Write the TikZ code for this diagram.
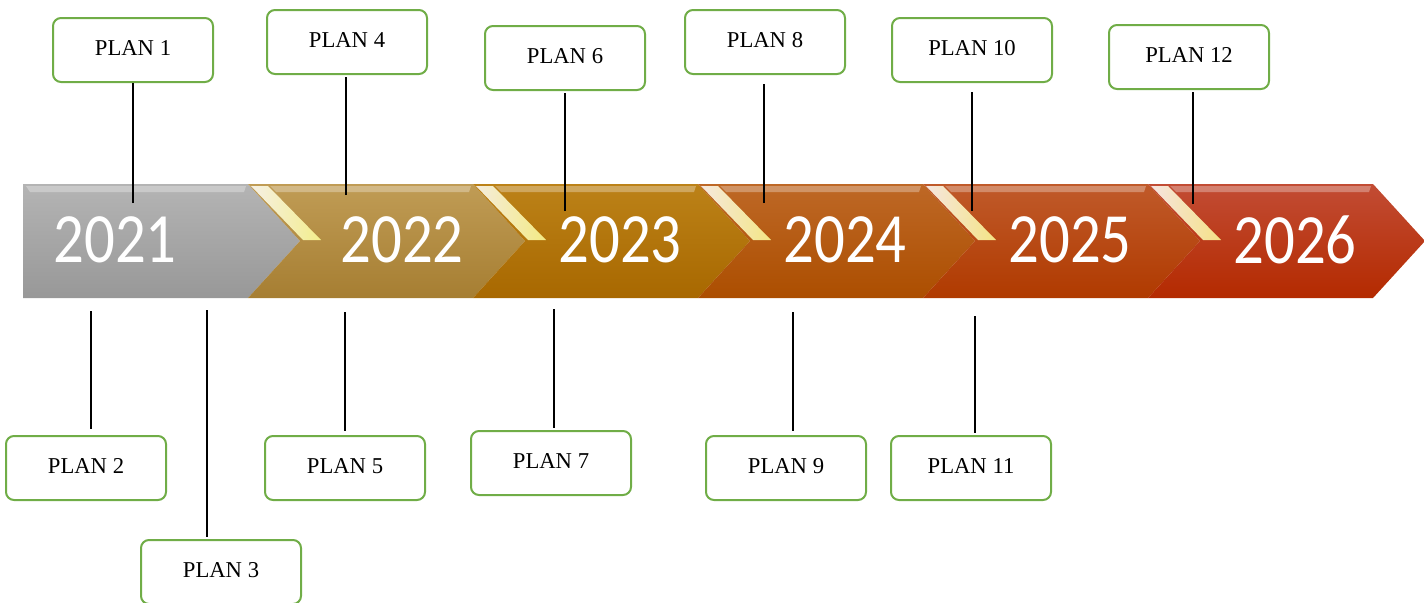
\documentclass[tikz,border=0pt]{standalone}
\usepackage{fontspec}
\setmainfont{Liberation Serif}
\newfontfamily\yearfont[FakeStretch=0.86]{Carlito}

\definecolor{planGreen}{HTML}{70AD47}
\definecolor{greyTop}{HTML}{B4B4B4}
\definecolor{greyBot}{HTML}{989898}
\definecolor{tanTop}{HTML}{C09C55}
\definecolor{tanBot}{HTML}{A67E32}
\definecolor{goldTop}{HTML}{BC8218}
\definecolor{goldBot}{HTML}{A86800}
\definecolor{amberTop}{HTML}{BE6826}
\definecolor{amberBot}{HTML}{AC4E00}
\definecolor{rustTop}{HTML}{C05A2A}
\definecolor{rustBot}{HTML}{B03A00}
\definecolor{redTop}{HTML}{C24C34}
\definecolor{redBot}{HTML}{B42A00}

\begin{document}
\begin{tikzpicture}[x=0.75pt,y=0.75pt,yscale=-1,xscale=1,
    plan/.style={draw=planGreen,line width=1.5pt,rounded corners=6pt,fill=white,
        minimum width=120pt,minimum height=48pt,text depth=0.3em,font=\fontsize{17}{20}\selectfont},
    year/.style={text=white,font=\yearfont\fontsize{53}{60}\selectfont}]
        \useasboundingbox (0,0) rectangle (1424,603);

        %Chevron 2021
        \shade[top color=greyTop,bottom color=greyBot] (23,184) -- (248,184) -- (300,241) -- (248,298) -- (23,298) -- cycle;
        \fill[white,opacity=0.3] (26,186) -- (246,186) -- (244,192) -- (30,192) -- cycle;
        %Chevrons 2022 - 2026
        \foreach \s/\ct/\cb in {248/tanTop/tanBot,473/goldTop/goldBot,698/amberTop/amberBot,923/rustTop/rustBot,1148/redTop/redBot}{
            \shade[top color=\ct,bottom color=\cb] (\s,184) -- (\s+225,184) -- (\s+277,241) -- (\s+225,298) -- (\s,298) -- (\s+52,241) -- cycle;
            \fill[white,opacity=0.3] (\s+22,186) -- (\s+223,186) -- (\s+221,192) -- (\s+28,192) -- cycle;
            \shade[left color=white,right color=yellow!40!white,opacity=0.85] (\s+3,186) -- (\s+20,186) -- (\s+73,240) -- (\s+55,240) -- cycle;
        }

        %Years
        \node[year] (y2021) at (115,240) {2021};
        \node[year] (y2022) at (402,240) {2022};
        \node[year] (y2023) at (620,240) {2023};
        \node[year] (y2024) at (845,240) {2024};
        \node[year] (y2025) at (1070,240) {2025};
        \node[year] (y2026) at (1295,240) {2026};

        %Plans above
        \node[plan] (p1) at (133,50) {PLAN 1};
        \node[plan] (p4) at (347,42) {PLAN 4};
        \node[plan] (p6) at (565,58) {PLAN 6};
        \node[plan] (p8) at (765,42) {PLAN 8};
        \node[plan] (p10) at (972,50) {PLAN 10};
        \node[plan] (p12) at (1189,57) {PLAN 12};
        %Plans below
        \node[plan] (p2) at (86,468) {PLAN 2};
        \node[plan] (p3) at (221,572) {PLAN 3};
        \node[plan] (p5) at (345,468) {PLAN 5};
        \node[plan] (p7) at (551,463) {PLAN 7};
        \node[plan] (p9) at (786,468) {PLAN 9};
        \node[plan] (p11) at (971,468) {PLAN 11};

        %Straight Lines
        \coordinate (c1) at (133,203);
        \coordinate (c4) at (346,195);
        \coordinate (c6) at (565,211);
        \coordinate (c8) at (764,203);
        \coordinate (c10) at (972,211);
        \coordinate (c12) at (1193,204);
        \coordinate (c2) at (91,311);
        \coordinate (c3) at (207,310);
        \coordinate (c5) at (345,312);
        \coordinate (c7) at (554,309);
        \coordinate (c9) at (793,312);
        \coordinate (c11) at (975,316);
        \draw[line width=1.5pt] (c1) -- (c1 |- p1.south);
        \draw[line width=1.5pt,shorten >=1.5pt] (c4) -- (c4 |- p4.south);
        \draw[line width=1.5pt,shorten >=1.5pt] (c6) -- (c6 |- p6.south);
        \draw[line width=1.5pt,shorten >=6.5pt] (c8) -- (c8 |- p8.south);
        \draw[line width=1.5pt,shorten >=6.5pt] (c10) -- (c10 |- p10.south);
        \draw[line width=1.5pt,shorten >=1.5pt] (c12) -- (c12 |- p12.south);
        \draw[line width=1.5pt,shorten >=4.5pt] (c2) -- (c2 |- p2.north);
        \draw[line width=1.5pt,shorten >=1.5pt] (c3) -- (c3 |- p3.north);
        \draw[line width=1.5pt,shorten >=3pt] (c5) -- (c5 |- p5.north);
        \draw[line width=1.5pt,shorten >=1.5pt] (c7) -- (c7 |- p7.north);
        \draw[line width=1.5pt,shorten >=3pt] (c9) -- (c9 |- p9.north);
        \draw[line width=1.5pt,shorten >=1.5pt] (c11) -- (c11 |- p11.north);
    \end{tikzpicture}
\end{document}
